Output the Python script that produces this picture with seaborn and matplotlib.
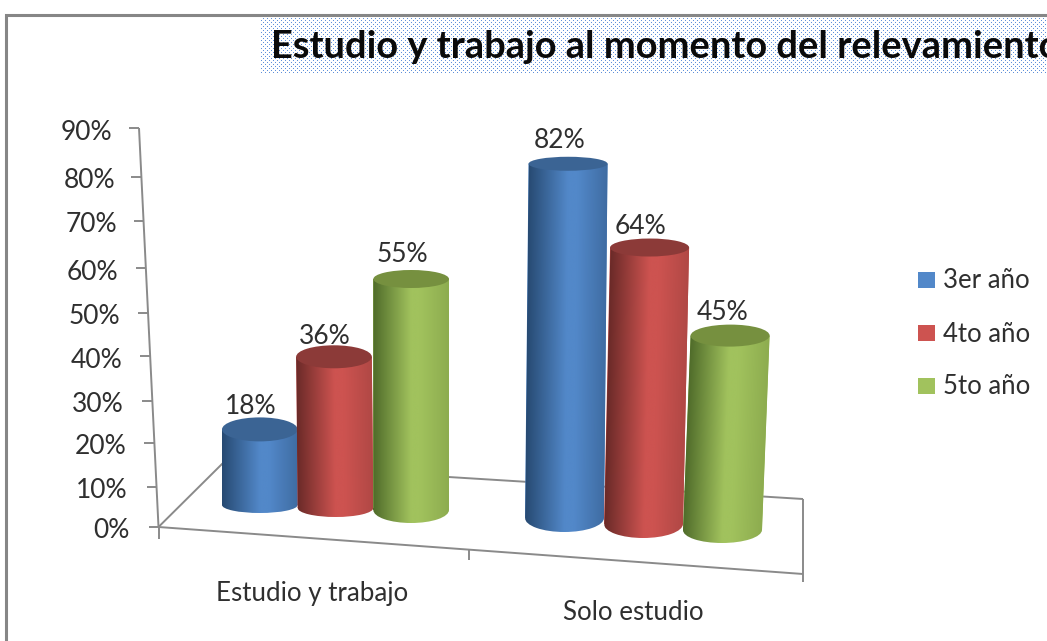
import numpy as np
import pandas as pd
import seaborn as sns
import matplotlib
matplotlib.use("Agg")
import matplotlib.pyplot as plt
from matplotlib.colors import LinearSegmentedColormap
from matplotlib.patches import Ellipse, Rectangle
from matplotlib.path import Path
from matplotlib.transforms import Affine2D

sns.set_theme(style="white")
plt.rcParams['font.family'] = ['Lato', 'DejaVu Sans']

# ---- data ----
title = "Estudio y trabajo al momento del relevamiento"
categories = ["Estudio y trabajo", "Solo estudio"]
series = ["3er año", "4to año", "5to año"]
values_3er = [18, 82]
values_4to = [36, 64]
values_5to = [55, 45]
y_ticks = [0, 10, 20, 30, 40, 50, 60, 70, 80, 90]

# ---- styles / layout (pixels of the 1047x641 picture) ----
base_colors = ["#5288c9", "#cd5350", "#a1c25d"]
dark_colors = ["#274a72", "#6a2a28", "#4f6b2a"]
right_colors = ["#3f6ca2", "#b04845", "#8dac4f"]
top_colors = ["#3b6494", "#8c3a38", "#76903f"]
line_gray = "#8a8a8a"
text_col = "#2f2f2f"
W, H = 1047, 641

tick_px = [527, 487, 443, 401, 356, 313, 268, 221, 177, 128]
label_right = [130, 128, 126, 124, 122, 120, 118, 117, 115, 112]

groups = [
    dict(x0=222, x1=449, scale=4.2, base_px=[505, 508, 510], top_hh=[12, 11.5, 9],
         bot_hh=[8, 9, 13], lean=[0.0, -0.01, 0.0], label_xy=[(251, 407), (325, 336), (402, 255)]),
    dict(x0=525, x1=762, scale=4.32, base_px=[518, 524, 530], top_hh=[7, 9, 11],
         bot_hh=[14, 14, 13], lean=[0.01, 0.022, 0.039], label_xy=[(560, 140), (641, 226), (723, 313)]),
]

fig = plt.figure(figsize=(W / 100, H / 100), dpi=100, facecolor="white")

# background overlay in picture pixels
bg = fig.add_axes([0, 0, 1, 1], zorder=0)
bg.set_xlim(0, W)
bg.set_ylim(H, 0)
bg.axis("off")

# chart frame
bg.plot([6, 6, W], [H, 14.5, 14.5], color="#868686", lw=2.2, solid_joinstyle="miter")

# dotted title background
yy, xx = np.mgrid[0:58, 0:W - 261]
pattern = np.ones((58, W - 261, 3))
dots = ((xx % 4 == 0) & (yy % 4 == 0)) | ((xx % 4 == 2) & (yy % 4 == 2))
pattern[dots] = matplotlib.colors.to_rgb("#5f90da")
bg.imshow(pattern, extent=(261, W, 74, 16), interpolation="nearest", aspect="auto", zorder=1)
bg.set_xlim(0, W)
bg.set_ylim(H, 0)

# 3-D walls and floor
wall = dict(color=line_gray, lw=1.4, solid_capstyle="butt")
axis_x = lambda y: 139 + (y - 128) / (527 - 128) * 19.5
bg.plot([139, 158.5], [128, 527], **wall)
bg.plot([158.5, 223], [527, 463], **wall)
bg.plot([223, 803], [463, 499], **wall)
bg.plot([158.5, 803], [527, 574], **wall)
bg.plot([803, 803], [499, 582], **wall)
bg.plot([159, 159], [527, 539], **wall)
bg.plot([469, 469], [550, 560], **wall)
for py in tick_px:
    bg.plot([axis_x(py) - 10, axis_x(py)], [py, py], **wall)

# top text layer
fg = fig.add_axes([0, 0, 1, 1], zorder=5)
fg.set_xlim(0, W)
fg.set_ylim(H, 0)
fg.axis("off")
fg.patch.set_alpha(0)

fg.text(271, 47, title, fontsize=27.4, fontweight="bold", color="#0a0a0a",
        ha="left", va="center", clip_on=True)

for t, py, rx in zip(y_ticks, tick_px, label_right):
    fg.text(rx, py + 4, f"{t}%", fontsize=19, color=text_col, ha="right", va="center")

fg.text(312, 593, categories[0], fontsize=18.6, color=text_col, ha="center", va="center")
fg.text(633, 613, categories[1], fontsize=18.6, color=text_col, ha="center", va="center")

legend_y = [279.5, 333, 386]
for name, c, ly in zip(series, base_colors, legend_y):
    fg.add_patch(Rectangle((918, ly - 8), 17, 16, facecolor=c, edgecolor="none"))
    fg.text(943, ly + 1, name, fontsize=18.5, color=text_col, ha="left", va="center")

# one transparent axes per category, with its bars drawn by seaborn
df = pd.DataFrame({
    "categoria": np.repeat(categories, len(series)),
    "anio": series * len(categories),
    "valor": [v[i] for i in range(len(categories)) for v in (values_3er, values_4to, values_5to)],
})

MARGIN = 40
AX_TOP, AX_BOTTOM = 100, 600
for gi, (cat, g) in enumerate(zip(categories, groups)):
    left, right = g["x0"] - MARGIN, g["x1"] + MARGIN
    ax = fig.add_axes([left / W, 1 - AX_BOTTOM / H, (right - left) / W, (AX_BOTTOM - AX_TOP) / H],
                      zorder=2 + gi)
    sub = df[df["categoria"] == cat]
    sns.barplot(data=sub, x="categoria", y="valor", hue="anio", hue_order=series,
                palette=base_colors, width=1, dodge=True, gap=0, saturation=1,
                legend=False, ax=ax, linewidth=0)
    unit = g["x1"] - g["x0"]  # pixels per category width
    xlim = (-0.5 - MARGIN / unit, 0.5 + MARGIN / unit)
    ylim = (0, (AX_BOTTOM - AX_TOP) / g["scale"])
    ax.set_xlim(*xlim)
    ax.set_ylim(*ylim)
    ax.axis("off")
    ax.patch.set_alpha(0)
    bars = sorted(ax.patches, key=lambda p: p.get_x())
    for i, bar in enumerate(bars):
        offset = (AX_BOTTOM - g["base_px"][i]) / g["scale"]
        bar.set_y(offset)
        x, w, h = bar.get_x(), bar.get_width(), bar.get_height()
        bh = g["bot_hh"][i] / g["scale"]
        th = g["top_hh"][i] / g["scale"]
        base_disp = H - g["base_px"][i]
        k = g["lean"][i]
        shear = Affine2D(np.array([[1, k, -k * base_disp], [0, 1, 0], [0, 0, 1.0]]))
        tr = ax.transData + shear
        bar.set_transform(tr)
        bar.set_zorder(2 + i * 3)

        cmap = LinearSegmentedColormap.from_list(
            f"c{i}", [(0, dark_colors[i]), (0.5, base_colors[i]), (0.62, base_colors[i]), (1, right_colors[i])])
        grad = np.linspace(0, 1, 256).reshape(1, -1)
        im = ax.imshow(grad, cmap=cmap, extent=(x, x + w, offset - bh, offset + h), aspect="auto",
                       zorder=2.5 + i * 3, interpolation="bilinear")
        im.set_transform(tr)
        rect_path = Path.unit_rectangle().transformed(Affine2D().scale(w, h).translate(x, offset))
        ell_path = Path.unit_circle().transformed(Affine2D().scale(w / 2, bh).translate(x + w / 2, offset))
        im.set_clip_path(Path.make_compound_path(rect_path, ell_path), tr)

        ax.add_patch(Ellipse((x + w / 2, offset + h), w, 2 * th, facecolor=top_colors[i],
                             edgecolor="none", transform=tr, zorder=3 + i * 3, clip_on=False))
    ax.set_xlim(*xlim)
    ax.set_ylim(*ylim)

    vals = sub["valor"].tolist()
    for v, (lx, ly) in zip(vals, g["label_xy"]):
        fg.text(lx, ly, f"{v}%", fontsize=19, color=text_col, ha="center", va="center")

fig.savefig("out.png", dpi=100, facecolor="white")
